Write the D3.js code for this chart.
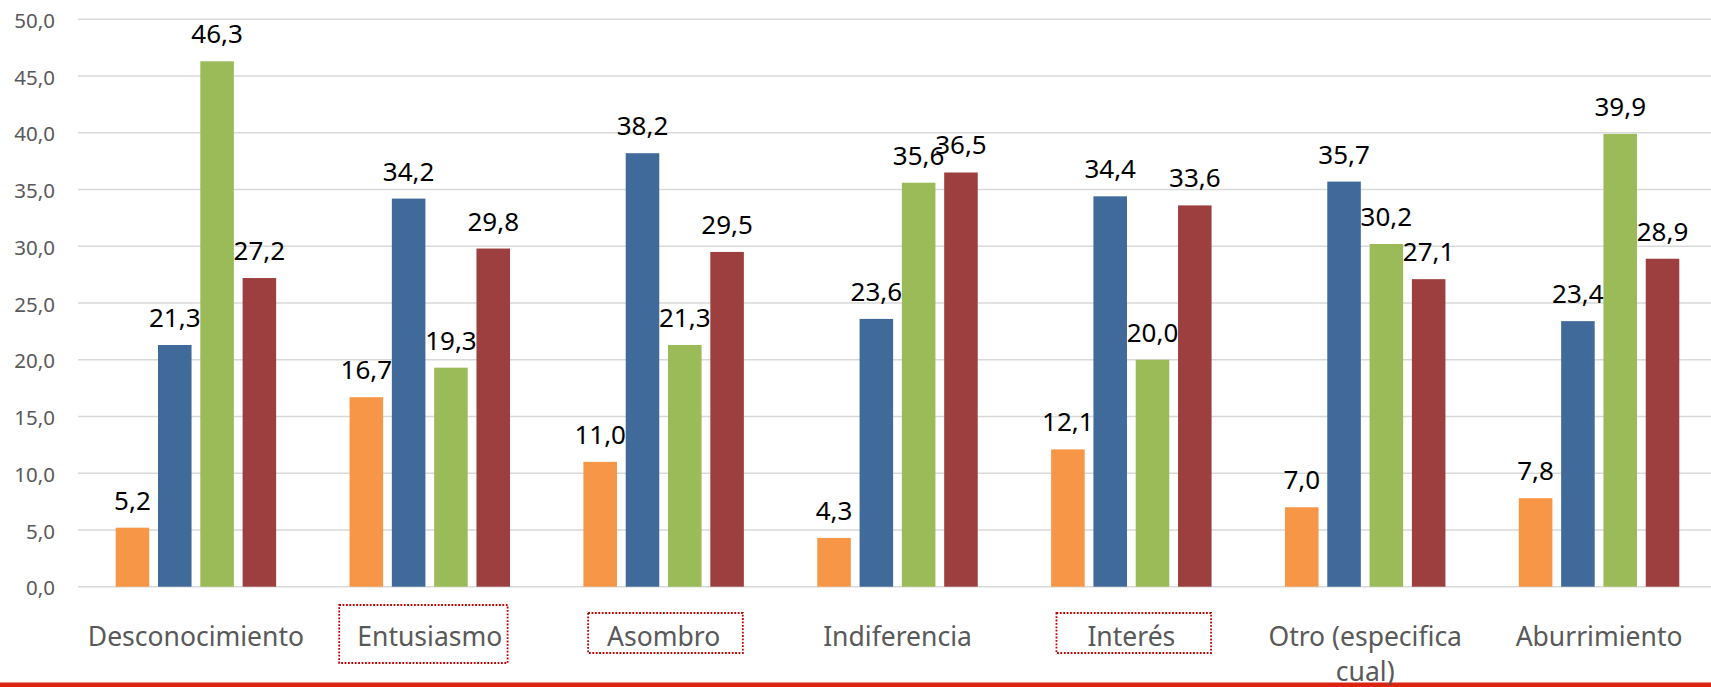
<!DOCTYPE html>
<html>
<head>
<meta charset="utf-8">
<script src="https://cdn.jsdelivr.net/npm/d3@7"></script>
<style>
  html, body { margin: 0; padding: 0; background: #fff; }
  svg { display: block; }
</style>
</head>
<body>
<svg id="chart" width="1711" height="687"></svg>
<script>
// ---- data ----
const categories = ["Desconocimiento", "Entusiasmo", "Asombro", "Indiferencia", "Interés", "Otro (especifica cual)", "Aburrimiento"];
const seriesNames = ["S1", "S2", "S3", "S4"];
const s1 = [5.2, 16.7, 11.0, 4.3, 12.1, 7.0, 7.8];
const s2 = [21.3, 34.2, 38.2, 23.6, 34.4, 35.7, 23.4];
const s3 = [46.3, 19.3, 21.3, 35.6, 20.0, 30.2, 39.9];
const s4 = [27.2, 29.8, 29.5, 36.5, 33.6, 27.1, 28.9];
const yTicks = [0, 5, 10, 15, 20, 25, 30, 35, 40, 45, 50];
const highlighted = ["Entusiasmo", "Asombro", "Interés"];

// ---- layout / style ----
const colors = ["#F79646", "#406A9A", "#9BBB59", "#9E3F3F"];
const FONT = "'Noto Sans', 'Open Sans', sans-serif";
const svg = d3.select("#chart");

const x0 = d3.scaleBand().domain(categories).range([79, 1716]).padding(0);
const x1 = d3.scaleBand().domain(seriesNames)
  .range([36.7, x0.bandwidth() - 36.7]).paddingInner(0.207).paddingOuter(0);
const y = d3.scaleLinear().domain([0, 50]).range([586.7, 19.3]);

const fmt = v => d3.format(".1f")(v).replace(".", ",");

// bottom red line
svg.append("rect").attr("x", 0).attr("y", 682.5).attr("width", 1711).attr("height", 5)
  .attr("fill", "#DA2510");

// gridlines
svg.append("g").selectAll("line").data(yTicks).join("line")
  .attr("x1", 78).attr("x2", 1711)
  .attr("y1", d => y(d)).attr("y2", d => y(d))
  .attr("stroke", "#d9d9d9").attr("stroke-width", 1.5);

// y axis labels
const yAxis = d3.axisLeft(y).tickValues(yTicks).tickFormat(fmt).tickSize(0).tickPadding(0);
const yg = svg.append("g").attr("transform", "translate(55,1.5)").call(yAxis);
yg.select(".domain").remove();
yg.selectAll("text").attr("font-family", FONT).attr("font-size", 20.5).attr("fill", "#595959");

// bars
const rows = categories.map((c, i) => ({ cat: c, vals: [s1[i], s2[i], s3[i], s4[i]] }));
const groups = svg.append("g").selectAll("g").data(rows).join("g")
  .attr("transform", d => `translate(${x0(d.cat)},0)`);
groups.selectAll("rect").data(d => d.vals.map((v, k) => ({ k, v }))).join("rect")
  .attr("x", d => x1(seriesNames[d.k])).attr("width", x1.bandwidth())
  .attr("y", d => y(d.v)).attr("height", d => y(0) - y(d.v))
  .attr("fill", d => colors[d.k]);
groups.selectAll("text").data(d => d.vals.map((v, k) => ({ k, v }))).join("text")
  .attr("x", d => x1(seriesNames[d.k]) + x1.bandwidth() / 2)
  .attr("y", d => y(d.v) - 18)
  .attr("text-anchor", "middle")
  .attr("font-family", FONT).attr("font-size", 26).attr("fill", "#000")
  .text(d => fmt(d.v));

// x axis labels
const xl = svg.append("g").selectAll("text").data(categories).join("text")
  .attr("x", d => x0(d) + x0.bandwidth() / 2)
  .attr("y", 646)
  .attr("text-anchor", "middle")
  .attr("font-family", FONT).attr("font-size", 26.5).attr("fill", "#595959");
xl.each(function (d) {
  const t = d3.select(this);
  const parts = d === "Otro (especifica cual)" ? ["Otro (especifica", "cual)"] : [d];
  parts.forEach((p, i) => {
    t.append("tspan").attr("x", x0(d) + x0.bandwidth() / 2).attr("dy", i === 0 ? 0 : 35).text(p);
  });
});

// dotted highlight boxes (hand-drawn annotations)
const boxGeom = {
  "Entusiasmo": { l: -90.6, r: 77.8, t: 605, b: 663 },
  "Asombro": { l: -75.5, r: 79.2, t: 613, b: 653 },
  "Interés": { l: -74.9, r: 79.7, t: 613, b: 653 }
};
svg.append("g").selectAll("rect").data(highlighted).join("rect")
  .attr("x", d => x0(d) + x0.bandwidth() / 2 + boxGeom[d].l)
  .attr("y", d => boxGeom[d].t)
  .attr("width", d => boxGeom[d].r - boxGeom[d].l)
  .attr("height", d => boxGeom[d].b - boxGeom[d].t)
  .attr("fill", "none").attr("stroke", "#C00000").attr("stroke-width", 1.8)
  .attr("stroke-dasharray", "1.8,1.6");
</script>
</body>
</html>
